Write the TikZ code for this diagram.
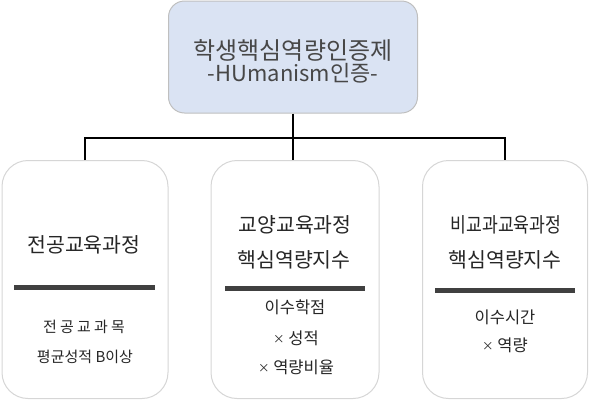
\documentclass[tikz,border=0pt]{standalone}
\usepackage{fontspec}
\setmainfont{Noto Sans CJK KR}
\newcommand{\gapsp}{\hspace{3.2pt}}
\newcommand{\smtimes}{\raisebox{0.5pt}{\scalebox{0.7}{×}}}
\begin{document}
\begin{tikzpicture}[x=1pt,y=-1pt,
  topbox/.style={draw=black!25, fill={rgb,255:red,218;green,227;blue,243}, rounded corners=16pt, line width=1pt, minimum width=249pt, minimum height=112pt, inner sep=0pt},
  subbox/.style={draw=black!16, fill=white, rounded corners=26pt, line width=1pt, minimum height=238pt, inner sep=0pt},
  conn/.style={draw=black, line width=2pt},
  sep/.style={draw=black!75, line width=5pt},
  bigtxt/.style={text=black!85, font=\fontsize{20.5}{24}\selectfont, inner sep=0pt},
  toptxt/.style={text=black!72, inner sep=0pt},
  smalltxt/.style={text=black!85, font=\fontsize{16.5}{19}\selectfont, inner sep=0pt},
  lefttxt/.style={text=black!85, font=\fontsize{15}{18}\selectfont, inner sep=0pt}]
\useasboundingbox (0,0) rectangle (590,400);
\node[topbox] (top) at (293,57) {};
\node[subbox, minimum width=166pt] (b1) at (85,279.5) {};
\node[subbox, minimum width=168pt] (b2) at (295,279.5) {};
\node[subbox, minimum width=165pt] (b3) at (505,279.5) {};
\coordinate (bus) at (0,138);
\draw[conn] (b1.north) -- (b1.north |- bus) -- (b3.north |- bus) -- (b3.north);
\draw[conn] (top.south) -- (top.south |- b2.north);
% top text
\node[toptxt, font=\fontsize{24}{28}\selectfont] (t1) at (293,50) {학생핵심역량인증제};
\node[toptxt, font=\fontsize{22}{26}\selectfont] (t2) at (293,73) {-HUmanism인증-};
% box 1
\node[bigtxt] (a1) at (84,245) {전공교육과정};
\coordinate (s1a) at (14,287); \coordinate (s1b) at (155,287);
\draw[sep] (s1a) -- (s1b);
\node[lefttxt] (a2) at (84,327) {전\gapsp 공\gapsp 교\gapsp 과\gapsp 목};
\node[lefttxt] (a3) at (85,357) {평균성적 B이상};
% box 2
\node[bigtxt] (c1) at (295,225) {교양교육과정};
\node[bigtxt] (c2) at (294,260) {핵심역량지수};
\coordinate (s2a) at (225,288); \coordinate (s2b) at (365,288);
\draw[sep] (s2a) -- (s2b);
\node[smalltxt] (c3) at (295,307) {이수학점};
\node[smalltxt] (c4) at (296,338) {\smtimes\ 성적};
\node[smalltxt] (c5) at (296,367) {\smtimes\ 역량비율};
% box 3
\node[bigtxt] (d1) at (506,225) {\scalebox{0.84}[1]{비교과교육과정}};
\node[bigtxt] (d2) at (505,260) {핵심역량지수};
\coordinate (s3a) at (435,290); \coordinate (s3b) at (575,290);
\draw[sep] (s3a) -- (s3b);
\node[smalltxt] (d3) at (505,317) {이수시간};
\node[smalltxt] (d4) at (505,345) {\smtimes\ 역량};
\end{tikzpicture}
\end{document}
